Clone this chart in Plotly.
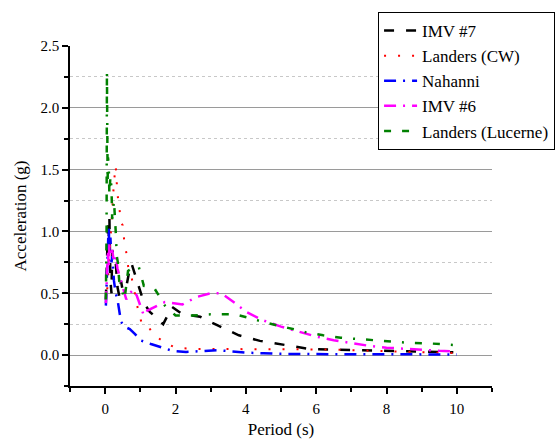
import plotly.graph_objects as go

# Response spectra: period (s) vs spectral acceleration (g)
imv7_t = [0.02, 0.05, 0.08, 0.10, 0.12, 0.15, 0.18, 0.20, 0.25, 0.30, 0.35, 0.40, 0.45, 0.50,
          0.60, 0.70, 0.75, 0.85, 0.95, 1.05, 1.15, 1.27, 1.65, 1.90, 2.20, 2.70, 3.20, 3.80,
          4.40, 5.10, 5.80, 6.50, 7.20, 8.00, 8.50, 9.20, 9.90]
imv7_a = [0.45, 0.80, 1.05, 0.95, 1.12, 0.60, 0.50, 0.85, 0.80, 0.75, 0.55, 0.48, 0.60, 0.52,
          0.55, 0.70, 0.74, 0.65, 0.55, 0.47, 0.40, 0.35, 0.25, 0.39, 0.33, 0.31, 0.24, 0.16,
          0.115, 0.08, 0.05, 0.045, 0.04, 0.033, 0.03, 0.028, 0.022]

cw_t = [0.02, 0.05, 0.10, 0.15, 0.20, 0.25, 0.30, 0.35, 0.40, 0.45, 0.50, 0.55, 0.60, 0.65,
        0.75, 0.85, 0.90, 0.95, 1.05, 1.20, 1.40, 1.70, 2.00, 2.50, 3.00, 3.50, 4.00, 4.50,
        5.00, 5.50, 6.00, 6.50, 7.00, 7.50, 8.00, 8.50, 9.00, 9.50, 10.0]
cw_a = [0.42, 0.50, 0.70, 0.95, 1.20, 1.40, 1.53, 1.30, 1.20, 1.07, 1.05, 0.90, 0.83, 0.72,
        0.63, 0.50, 0.42, 0.34, 0.25, 0.24, 0.16, 0.10, 0.06, 0.05, 0.05, 0.05, 0.05, 0.05,
        0.05, 0.05, 0.05, 0.045, 0.04, 0.035, 0.03, 0.025, 0.02, 0.018, 0.015]

nah_t = [0.02, 0.05, 0.08, 0.10, 0.12, 0.15, 0.18, 0.20, 0.25, 0.30, 0.35, 0.40, 0.45, 0.55,
         0.70, 0.85, 1.00, 1.30, 1.60, 1.90, 2.30, 2.80, 3.20, 3.60, 4.00, 4.50, 5.00, 6.00,
         7.00, 8.00, 9.00, 10.0]
nah_a = [0.40, 0.60, 0.90, 1.05, 0.85, 0.95, 0.75, 0.80, 0.60, 0.50, 0.45, 0.35, 0.27, 0.23,
         0.21, 0.17, 0.12, 0.09, 0.06, 0.035, 0.025, 0.03, 0.04, 0.03, 0.02, 0.015, 0.01, 0.008,
         0.007, 0.006, 0.006, 0.005]

imv6_t = [0.02, 0.05, 0.08, 0.10, 0.12, 0.15, 0.20, 0.25, 0.30, 0.35, 0.40, 0.45, 0.50, 0.60,
          0.70, 0.80, 0.90, 1.00, 1.10, 1.20, 1.70, 2.20, 2.60, 3.00, 3.30, 3.70, 4.00, 4.50,
          5.00, 5.50, 6.00, 6.50, 7.00, 7.50, 8.00, 8.50, 9.00, 9.50, 10.0]
imv6_a = [0.42, 0.60, 0.85, 0.70, 0.90, 0.80, 0.85, 0.75, 0.80, 0.70, 0.65, 0.60, 0.55, 0.45,
          0.50, 0.53, 0.48, 0.40, 0.32, 0.36, 0.43, 0.41, 0.47, 0.50, 0.50, 0.42, 0.35, 0.28,
          0.23, 0.19, 0.15, 0.12, 0.095, 0.075, 0.06, 0.05, 0.04, 0.035, 0.03]

luc_t = [0.02, 0.04, 0.05, 0.06, 0.07, 0.08, 0.10, 0.12, 0.15, 0.18, 0.20, 0.25, 0.30, 0.33,
         0.36, 0.40, 0.50, 0.55, 0.65, 0.75, 0.95, 1.10, 1.40, 1.70, 2.00, 2.50, 3.00, 3.70,
         4.10, 4.60, 5.20, 5.70, 6.20, 6.70, 7.20, 7.60, 8.10, 8.60, 9.20, 10.0]
luc_a = [0.45, 1.00, 2.30, 1.80, 1.40, 1.60, 1.55, 1.30, 1.45, 1.35, 1.10, 1.25, 1.00, 0.80,
         0.75, 0.60, 0.50, 0.45, 0.68, 0.70, 0.72, 0.56, 0.54, 0.40, 0.32, 0.32, 0.33, 0.33,
         0.30, 0.26, 0.22, 0.185, 0.16, 0.14, 0.13, 0.12, 0.11, 0.10, 0.095, 0.08]

series = [
    ("IMV #7", imv7_t, imv7_a, "#000000", 2.5, "10px,12px"),
    ("Landers (CW)", cw_t, cw_a, "#ff0000", 2, "2px,12px"),
    ("Nahanni", nah_t, nah_a, "#0000ff", 2.5, "12px,7px,2px,7px"),
    ("IMV #6", imv6_t, imv6_a, "#ff00ff", 2.5, "12px,7px,2px,7px"),
    ("Landers (Lucerne)", luc_t, luc_a, "#008000", 2.5, "7px,11px,7px,11px,2px,11px"),
]

fig = go.Figure()
for name, t, a, color, width, dash in series:
    fig.add_trace(go.Scatter(
        x=t, y=a, mode="lines", name=name,
        line=dict(color=color, width=width, dash=dash),
    ))

serif = "Liberation Serif"

fig.update_layout(
    width=556, height=439,
    # fixed plot box; the legend is allowed to run to the page edge
    margin=dict(l=70, r=64, t=46, b=53, autoexpand=False),
    paper_bgcolor="white", plot_bgcolor="white",
    font=dict(family=serif, size=15, color="black"),
    showlegend=True,
    legend=dict(
        x=0.73, y=1.1, xanchor="left", yanchor="top",
        bgcolor="white", bordercolor="black", borderwidth=1,
        font=dict(family=serif, size=17, color="black"),
        tracegroupgap=0, itemwidth=33,
    ),
    xaxis=dict(
        range=[-1, 11], tick0=0, dtick=2, automargin=False,
        showgrid=False, zeroline=False,
        showline=True, linecolor="black", linewidth=1.5,
        ticks="outside", ticklen=6, tickwidth=1.5, tickcolor="black",
        ticklabelstandoff=2,
        minor=dict(dtick=1, tick0=-1, ticks="outside", ticklen=4, tickwidth=1.5,
                   tickcolor="black", showgrid=False),
        title=dict(text="Period (s)", font=dict(family=serif, size=17, color="black"), standoff=16),
        tickfont=dict(family=serif, size=15, color="black"),
    ),
    yaxis=dict(
        range=[-0.25, 2.5], tick0=0, dtick=0.5, tickformat=".1f", automargin=False,
        showgrid=True, gridcolor="#9a9a9a", gridwidth=1,
        zeroline=True, zerolinecolor="#9a9a9a", zerolinewidth=1,
        showline=True, linecolor="black", linewidth=1.5,
        ticks="outside", ticklen=6, tickwidth=1.5, tickcolor="black",
        minor=dict(dtick=0.25, tick0=0, ticks="outside", ticklen=4, tickwidth=1.5,
                   tickcolor="black", showgrid=True, gridcolor="#c8c8c8",
                   gridwidth=1, griddash="dot"),
        title=dict(text="Acceleration (g)", font=dict(family=serif, size=17, color="black"), standoff=10),
        tickfont=dict(family=serif, size=15, color="black"),
    ),
)

fig.write_html("out.html")
